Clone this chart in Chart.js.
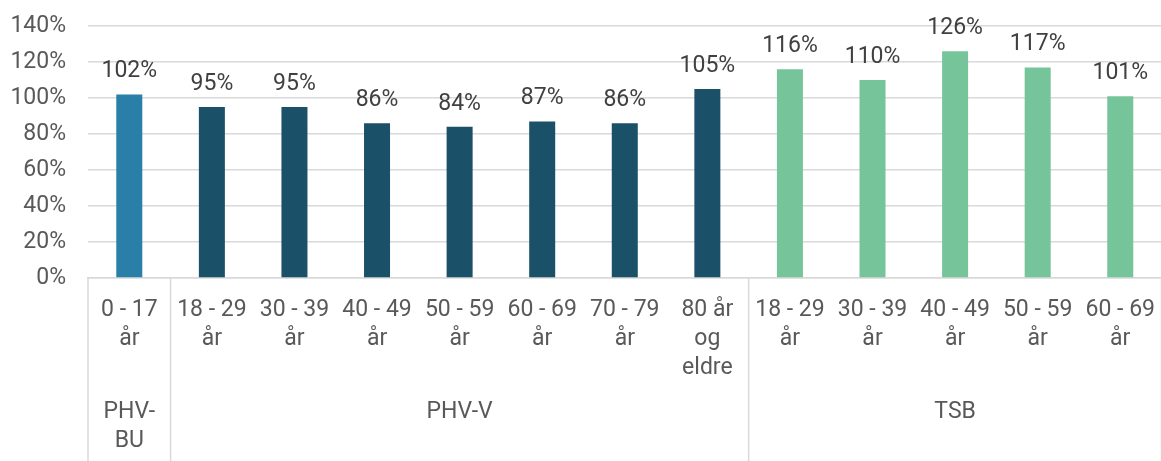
<!DOCTYPE html>
<html>
<head>
<meta charset="utf-8">
<script src="https://cdn.jsdelivr.net/npm/chart.js@4"></script>
<style>
  html, body { margin: 0; padding: 0; background: #fff; overflow: hidden; }
  #wrap { width: 1161px; height: 461px; overflow: hidden; }
</style>
</head>
<body>
<div id="wrap"><canvas id="chart" width="1165" height="461"></canvas></div>
<script>
// age groups (x labels), split over lines like the original
var categories = [
    ['0 - 17', 'år'],
    ['18 - 29', 'år'], ['30 - 39', 'år'], ['40 - 49', 'år'], ['50 - 59', 'år'],
    ['60 - 69', 'år'], ['70 - 79', 'år'], ['80 år', 'og', 'eldre'],
    ['18 - 29', 'år'], ['30 - 39', 'år'], ['40 - 49', 'år'], ['50 - 59', 'år'], ['60 - 69', 'år']
];
var values = [102, 95, 95, 86, 84, 87, 86, 105, 116, 110, 126, 117, 101];

// second level of the axis
var groupNames = [['PHV-', 'BU'], ['PHV-V'], ['TSB']];
var groupSizes = [1, 7, 5];
var groupColors = ['#2a7fa8', '#1b5069', '#76c59a'];

var yTicks = [0, 20, 40, 60, 80, 100, 120, 140];

var barColors = [];
groupSizes.forEach(function (n, g) {
    for (var i = 0; i < n; i++) barColors.push(groupColors[g]);
});

var FONT = 'Roboto';

// value labels over bars
var valueLabels = {
    id: 'valueLabels',
    afterDatasetsDraw: function (chart) {
        var ctx = chart.ctx;
        var meta = chart.getDatasetMeta(0);
        ctx.save();
        ctx.font = '23px ' + FONT;
        ctx.fillStyle = '#404040';
        ctx.textAlign = 'center';
        ctx.textBaseline = 'alphabetic';
        meta.data.forEach(function (bar, i) {
            ctx.fillText(values[i] + '%', bar.x, bar.y - 17);
        });
        ctx.restore();
    }
};

// group separators and group names under the category labels
var groupAxis = {
    id: 'groupAxis',
    afterDraw: function (chart) {
        var ctx = chart.ctx;
        var xs = chart.scales.x;
        var half = (xs.getPixelForValue(1) - xs.getPixelForValue(0)) / 2;
        ctx.save();
        ctx.strokeStyle = '#d9d9d9';
        ctx.lineWidth = 1.5;
        var start = 0;
        var bounds = [0];
        groupSizes.forEach(function (n) { start += n; bounds.push(start); });
        bounds.forEach(function (b) {
            var x = b < categories.length ? xs.getPixelForValue(b) - half
                                           : xs.getPixelForValue(b - 1) + half;
            ctx.beginPath();
            ctx.moveTo(x, xs.top);
            ctx.lineTo(x, chart.height);
            ctx.stroke();
        });
        ctx.font = '23px ' + FONT;
        ctx.fillStyle = '#595959';
        ctx.textAlign = 'center';
        ctx.textBaseline = 'middle';
        start = 0;
        groupSizes.forEach(function (n, g) {
            var cx = (xs.getPixelForValue(start) + xs.getPixelForValue(start + n - 1)) / 2;
            groupNames[g].forEach(function (line, k) {
                ctx.fillText(line, cx, xs.top + 134 + k * 29);
            });
            start += n;
        });
        ctx.restore();
    }
};

new Chart(document.getElementById('chart'), {
    type: 'bar',
    data: {
        labels: categories,
        datasets: [{
            data: values,
            backgroundColor: barColors,
            barPercentage: 1,
            categoryPercentage: 0.315
        }]
    },
    options: {
        responsive: false,
        animation: false,
        layout: { padding: { top: 26, right: 0, bottom: 0, left: 0 } },
        plugins: { legend: { display: false }, tooltip: { enabled: false } },
        scales: {
            x: {
                grid: { display: false },
                border: { display: true, color: '#d9d9d9', width: 1.5 },
                ticks: {
                    autoSkip: false,
                    maxRotation: 0,
                    padding: 10,
                    color: '#595959',
                    font: { family: FONT, size: 23, lineHeight: 1.26 }
                },
                afterFit: function (s) { s.height = 183; }
            },
            y: {
                min: 0,
                max: 140,
                afterBuildTicks: function (s) {
                    s.ticks = yTicks.map(function (v) { return { value: v }; });
                },
                grid: { color: '#d9d9d9', lineWidth: 1.5, drawTicks: false },
                border: { display: false },
                ticks: {
                    padding: 22,
                    color: '#595959',
                    font: { family: FONT, size: 23 },
                    callback: function (v) { return v + '%'; }
                },
                afterFit: function (s) {
                    s.width = 88;
                    s.paddingTop = 0;
                    s.paddingBottom = 0;
                }
            }
        }
    },
    plugins: [valueLabels, groupAxis]
});
</script>
</body>
</html>
